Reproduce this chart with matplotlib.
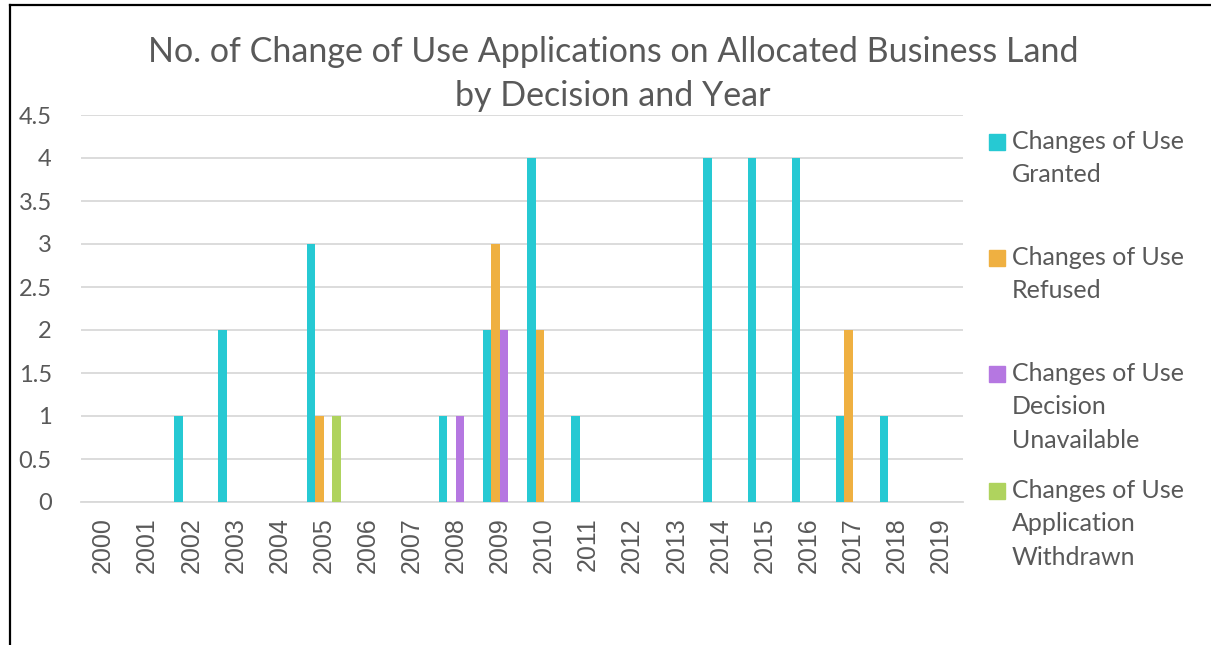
import matplotlib
matplotlib.use("Agg")
import matplotlib.pyplot as plt
import numpy as np
from matplotlib.lines import Line2D
from matplotlib.patches import Rectangle

years = [str(y) for y in range(2000, 2020)]
granted =     [0, 0, 1, 2, 0, 3, 0, 0, 1, 2, 4, 1, 0, 0, 4, 4, 4, 1, 1, 0]
refused =     [0, 0, 0, 0, 0, 1, 0, 0, 0, 3, 2, 0, 0, 0, 0, 0, 0, 2, 0, 0]
unavailable = [0, 0, 0, 0, 0, 0, 0, 0, 1, 2, 0, 0, 0, 0, 0, 0, 0, 0, 0, 0]
withdrawn =   [0, 0, 0, 0, 0, 1, 0, 0, 0, 0, 0, 0, 0, 0, 0, 0, 0, 0, 0, 0]
series_labels = ["Changes of Use\nGranted", "Changes of Use\nRefused",
                 "Changes of Use\nDecision\nUnavailable",
                 "Changes of Use\nApplication\nWithdrawn"]
colors = ["#26C9D3", "#EFB041", "#B577E1", "#AFD35E"]
yticks = [0, 0.5, 1, 1.5, 2, 2.5, 3, 3.5, 4, 4.5]
title = "No. of Change of Use Applications on Allocated Business Land\nby Decision and Year"

plt.rcParams['font.family'] = ['Lato', 'DejaVu Sans']
txt = "#595959"

W, H = 1211, 645
fig = plt.figure(figsize=(W / 100, H / 100), dpi=100)
ax = fig.add_axes([81 / W, (H - 502) / H, (963 - 81) / W, (502 - 115) / H])

x = np.arange(len(years))
bw = 0.1925
data = [granted, refused, unavailable, withdrawn]
for i, (vals, c) in enumerate(zip(data, colors)):
    ax.bar(x + (i - 1.5) * bw, vals, width=bw, color=c, zorder=3)

ax.set_xlim(-0.5, len(years) - 0.5)
ax.set_ylim(0, 4.5)
ax.set_yticks(yticks)
ax.set_yticklabels([f"{v:g}" for v in yticks])
ax.set_xticks(x)
ax.set_xticklabels(years, rotation=90, family=['Liberation Sans', 'DejaVu Sans'])
ax.grid(axis='y', color="#d9d9d9", linewidth=1.3, zorder=0)
for s in ["top", "right", "left"]:
    ax.spines[s].set_visible(False)
ax.spines["bottom"].set_color("#d9d9d9")
ax.spines["bottom"].set_linewidth(1.3)
ax.tick_params(axis='y', length=0, pad=21, labelsize=17, labelcolor=txt)
ax.tick_params(axis='x', length=0, pad=11, labelsize=18, labelcolor=txt)

fig.text(613 / W, 1 - 74 / H, title, ha='center', va='center', fontsize=24.5,
         color=txt, linespacing=1.45)

# legend
leg_y = [142, 258, 374, 491]
for lab, c, yy in zip(series_labels, colors, leg_y):
    fig.patches.append(Rectangle((989 / W, 1 - (yy + 8) / H), 16 / W, 16 / H,
                                 transform=fig.transFigure, color=c, figure=fig))
    fig.text(1012 / W, 1 - (yy - 12) / H, lab, ha='left', va='top', fontsize=18,
             color=txt, linespacing=1.55)

# border
fig.add_artist(Line2D([10.5 / W, 10.5 / W], [0, 1 - 5 / H], color='black', lw=1.6,
                      transform=fig.transFigure))
fig.add_artist(Line2D([10.5 / W, 1], [1 - 5 / H, 1 - 5 / H], color='black', lw=1.6,
                      transform=fig.transFigure))

fig.savefig("out.png", dpi=100)
